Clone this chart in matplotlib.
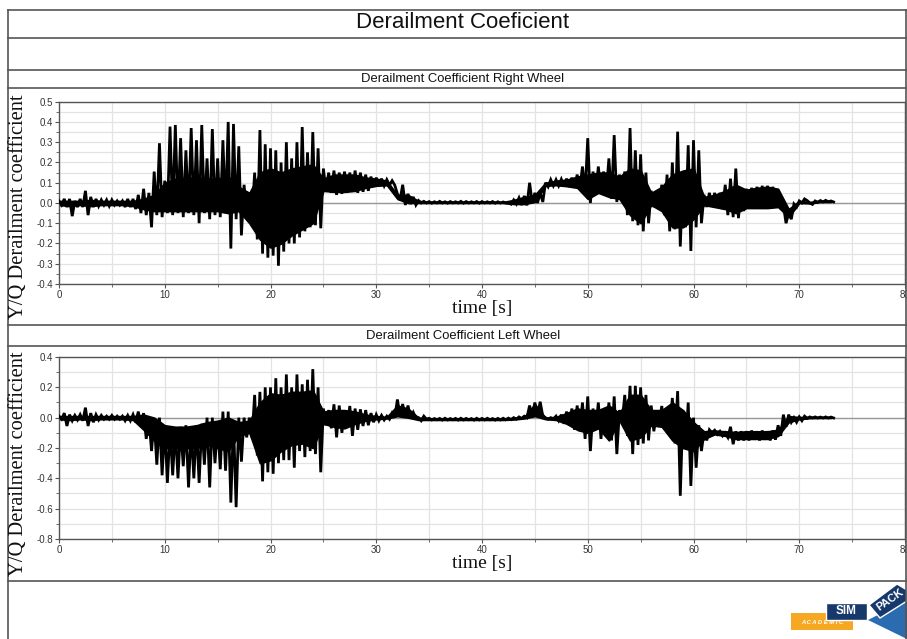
import numpy as np
import matplotlib
matplotlib.use("Agg")
import matplotlib.pyplot as plt
from matplotlib.lines import Line2D
from matplotlib.patches import Rectangle, Polygon
from matplotlib.ticker import MultipleLocator, FormatStrFormatter

# ---------------- data ----------------
TITLE = "Derailment Coeficient"
PANEL_TITLES = ["Derailment Coefficient Right Wheel", "Derailment Coefficient Left Wheel"]
XLABEL = "time [s]"
YLABEL = "Y/Q Derailment coefficient"

# sample times, every 0.5 s from 0 to 73 s (spike extremes)
SAMPLE_TIMES = np.linspace(0.0, 73.0, 147)
# every 1 s from 0 to 73 s (dense core band of the fast oscillation)
CORE_TIMES = np.linspace(0.0, 73.0, 74)

# right wheel: local maxima / minima of the oscillating signal per 0.5 s
R_HI = [0.010, 0.020, 0.020, 0.010, 0.020, 0.060, 0.030, 0.020, 0.015, 0.015,
        0.015, 0.010, 0.010, 0.020, 0.020, 0.040, 0.070, 0.050, 0.155, 0.295,
        0.110, 0.377, 0.385, 0.320, 0.260, 0.370, 0.310, 0.385, 0.220, 0.365,
        0.220, 0.310, 0.400, 0.390, 0.280, 0.090, 0.020, 0.150, 0.360, 0.290,
        0.270, 0.260, 0.200, 0.300, 0.220, 0.300, 0.375, 0.250, 0.350, 0.270,
        0.170, 0.150, 0.160, 0.150, 0.155, 0.150, 0.160, 0.150, 0.140, 0.130,
        0.125, 0.120, 0.115, 0.110, 0.045, 0.090, 0.045, 0.030, 0.012, 0.008,
        0.007, 0.006, 0.008, 0.006, 0.007, 0.006, 0.008, 0.007, 0.006, 0.007,
        0.007, 0.006, 0.007, 0.006, 0.005, 0.000, 0.015, 0.025, 0.035, 0.100,
        0.050, 0.050, 0.100, 0.115, 0.115, 0.117, 0.120, 0.125, 0.140, 0.180,
        0.320, 0.155, 0.180, 0.155, 0.220, 0.335, 0.140, 0.155, 0.370, 0.260,
        0.240, 0.150, 0.060, 0.030, 0.090, 0.140, 0.200, 0.352, 0.140, 0.285,
        0.310, 0.260, 0.040, 0.050, 0.050, 0.050, 0.090, 0.120, 0.170, 0.070,
        0.070, 0.075, 0.080, 0.085, 0.085, 0.080, 0.030, -0.010, -0.050, -0.005,
        0.010, 0.020, 0.000, 0.010, 0.012, 0.013, 0.010]
R_LO = [-0.010, -0.020, -0.065, -0.020, -0.020, -0.060, -0.020, -0.015, -0.010, -0.015,
        -0.010, -0.010, -0.020, -0.020, -0.030, -0.050, -0.060, -0.120, -0.060, -0.070,
        -0.050, -0.060, -0.050, -0.070, -0.050, -0.060, -0.100, -0.050, -0.080, -0.060,
        -0.070, -0.050, -0.225, -0.080, -0.160, -0.050, -0.070, -0.180, -0.250, -0.270,
        -0.260, -0.310, -0.240, -0.200, -0.200, -0.170, -0.140, -0.120, -0.110, -0.125,
        0.060, 0.050, 0.040, 0.045, 0.050, 0.055, 0.050, 0.055, 0.060, 0.080,
        0.085, 0.085, 0.088, 0.088, 0.015, -0.010, -0.005, -0.010, 0.000, 0.000,
        -0.001, 0.000, 0.000, -0.001, 0.000, 0.000, -0.001, 0.000, 0.000, -0.001,
        0.000, 0.000, -0.001, 0.000, 0.000, -0.006, -0.005, -0.010, -0.012, 0.000,
        0.000, 0.005, 0.080, 0.085, 0.085, 0.083, 0.080, 0.075, 0.070, 0.050,
        0.000, 0.040, 0.055, 0.050, 0.020, 0.005, 0.055, -0.060, -0.090, -0.110,
        -0.140, -0.100, -0.020, -0.010, -0.060, -0.140, -0.130, -0.215, -0.120, -0.237,
        -0.120, -0.100, -0.020, -0.010, -0.020, -0.030, -0.060, -0.070, -0.075, -0.040,
        -0.020, -0.020, -0.025, -0.025, -0.025, -0.020, -0.020, -0.100, -0.080, -0.020,
        0.000, 0.012, -0.007, 0.003, 0.005, 0.006, 0.005]
R_CORE_HI = [0.010, 0.010, 0.010, 0.015, 0.010, 0.010, 0.010, 0.010, 0.020, 0.040,
             0.100, 0.120, 0.120, 0.130, 0.120, 0.120, 0.130, 0.080, 0.050, 0.150,
             0.170, 0.150, 0.170, 0.180, 0.190, 0.120, 0.140, 0.140, 0.140, 0.125,
             0.120, 0.110, 0.040, 0.040, 0.010, 0.006, 0.006, 0.006, 0.006, 0.006,
             0.006, 0.006, 0.005, 0.015, 0.030, 0.040, 0.100, 0.110, 0.115, 0.130,
             0.140, 0.150, 0.150, 0.130, 0.170, 0.160, 0.050, 0.080, 0.140, 0.160,
             0.170, 0.030, 0.040, 0.060, 0.090, 0.065, 0.075, 0.080, 0.070, -0.030,
             0.010, 0.005, 0.012, 0.010]
R_CORE_LO = [-0.010, -0.015, -0.010, -0.015, -0.010, -0.010, -0.010, -0.015, -0.030, -0.040,
             -0.040, -0.040, -0.040, -0.040, -0.040, -0.040, -0.050, -0.040, -0.100, -0.180,
             -0.220, -0.200, -0.160, -0.130, -0.100, 0.060, 0.055, 0.055, 0.060, 0.075,
             0.085, 0.088, 0.020, 0.000, 0.000, 0.000, 0.000, 0.000, 0.000, 0.000,
             0.000, 0.000, 0.000, -0.005, -0.005, 0.005, 0.085, 0.088, 0.083, 0.075,
             0.020, 0.050, 0.030, 0.020, -0.060, -0.100, -0.010, -0.040, -0.120, -0.120,
             -0.080, -0.010, -0.020, -0.030, -0.050, -0.025, -0.025, -0.025, -0.020, -0.070,
             0.000, -0.002, 0.005, 0.005]

# left wheel
L_HI = [0.010, 0.030, 0.020, 0.015, 0.020, 0.066, 0.030, 0.020, 0.015, 0.010,
        0.015, 0.010, 0.010, 0.015, 0.020, 0.040, 0.030, 0.000, -0.010, 0.000,
        -0.050, -0.070, -0.070, -0.060, -0.050, -0.070, -0.050, -0.040, 0.000, 0.000,
        -0.030, 0.040, 0.040, -0.020, 0.000, 0.000, 0.000, 0.150, 0.170, 0.200,
        0.200, 0.260, 0.200, 0.285, 0.200, 0.285, 0.220, 0.250, 0.320, 0.200,
        0.060, 0.050, 0.088, 0.080, 0.040, 0.077, 0.060, 0.055, 0.050, 0.030,
        0.020, 0.015, 0.010, 0.030, 0.120, 0.090, 0.080, 0.035, 0.000, 0.010,
        -0.004, -0.006, -0.005, -0.004, -0.006, -0.005, -0.004, -0.005, -0.006, -0.004,
        -0.005, -0.004, -0.006, -0.005, -0.004, -0.003, 0.000, 0.005, 0.010, 0.080,
        0.100, 0.105, 0.000, 0.000, 0.010, 0.020, 0.040, 0.060, 0.080, 0.100,
        0.140, 0.060, 0.100, 0.050, 0.100, 0.140, 0.050, 0.150, 0.210, 0.210,
        0.200, 0.150, 0.080, 0.020, 0.077, 0.060, 0.130, 0.175, 0.050, 0.100,
        0.000, -0.050, -0.090, -0.080, -0.083, -0.090, -0.100, -0.060, -0.090, -0.090,
        -0.090, -0.085, -0.090, -0.085, -0.090, -0.085, -0.050, 0.020, 0.020, 0.000,
        0.005, 0.010, 0.005, 0.005, 0.004, 0.005, 0.004]
L_LO = [-0.010, -0.055, -0.020, -0.015, -0.020, -0.055, -0.030, -0.015, -0.010, -0.010,
        -0.010, -0.010, -0.020, -0.020, -0.030, -0.060, -0.140, -0.220, -0.310, -0.380,
        -0.430, -0.380, -0.400, -0.320, -0.460, -0.400, -0.430, -0.310, -0.460, -0.300,
        -0.340, -0.350, -0.560, -0.590, -0.290, -0.130, -0.130, -0.250, -0.420, -0.360,
        -0.370, -0.300, -0.280, -0.280, -0.330, -0.220, -0.260, -0.220, -0.240, -0.360,
        -0.050, -0.070, -0.130, -0.100, -0.060, -0.120, -0.080, -0.055, -0.050, -0.030,
        -0.020, -0.015, -0.010, 0.000, 0.010, 0.000, 0.000, -0.005, -0.020, -0.010,
        -0.015, -0.014, -0.016, -0.015, -0.014, -0.016, -0.015, -0.014, -0.016, -0.015,
        -0.015, -0.014, -0.016, -0.015, -0.014, -0.013, -0.010, -0.005, 0.000, 0.010,
        0.010, 0.010, -0.010, -0.010, -0.020, -0.040, -0.050, -0.080, -0.090, -0.140,
        -0.220, -0.080, -0.140, -0.080, -0.150, -0.240, -0.030, -0.120, -0.240, -0.180,
        -0.170, -0.150, -0.090, -0.040, -0.066, -0.100, -0.170, -0.515, -0.200, -0.450,
        -0.330, -0.220, -0.150, -0.100, -0.110, -0.120, -0.130, -0.175, -0.150, -0.150,
        -0.150, -0.145, -0.150, -0.145, -0.150, -0.145, -0.120, -0.060, -0.030, -0.030,
        -0.020, -0.005, -0.002, -0.002, -0.002, -0.002, -0.002]
L_CORE_HI = [0.010, 0.010, 0.010, 0.010, 0.010, 0.010, 0.010, 0.010, 0.020, 0.000,
             -0.050, -0.060, -0.060, -0.050, -0.030, -0.020, 0.000, -0.030, -0.020, 0.100,
             0.160, 0.150, 0.170, 0.170, 0.180, 0.040, 0.050, 0.050, 0.040, 0.020,
             0.010, 0.005, 0.080, 0.060, 0.000, -0.005, -0.005, -0.005, -0.005, -0.005,
             -0.005, -0.005, -0.005, -0.003, 0.005, 0.090, 0.000, 0.005, 0.030, 0.060,
             0.050, 0.050, 0.080, 0.030, 0.150, 0.150, 0.050, 0.050, 0.100, 0.050,
             -0.030, -0.090, -0.085, -0.090, -0.095, -0.090, -0.090, -0.090, -0.080, 0.010,
             0.004, 0.005, 0.004, 0.004]
L_CORE_LO = [-0.010, -0.015, -0.010, -0.015, -0.010, -0.010, -0.010, -0.015, -0.080, -0.150,
             -0.200, -0.200, -0.200, -0.200, -0.180, -0.200, -0.220, -0.120, -0.100, -0.300,
             -0.280, -0.220, -0.180, -0.170, -0.200, -0.040, -0.060, -0.070, -0.040, -0.020,
             -0.010, -0.005, 0.010, 0.000, -0.015, -0.015, -0.015, -0.015, -0.015, -0.015,
             -0.015, -0.015, -0.015, -0.012, -0.005, 0.010, -0.010, -0.015, -0.040, -0.080,
             -0.100, -0.070, -0.150, -0.020, -0.150, -0.130, -0.050, -0.060, -0.150, -0.200,
             -0.220, -0.140, -0.110, -0.120, -0.140, -0.140, -0.140, -0.140, -0.120, -0.030,
             -0.010, -0.003, -0.002, -0.002]

X_RANGE = (0, 80)
Y_RANGES = [(-0.4, 0.5), (-0.8, 0.4)]
Y_MAJOR = [0.1, 0.2]
Y_GRID = [0.05, 0.1]

# ---------------- figure ----------------
W, H = 907, 639
fig = plt.figure(figsize=(W / 100, H / 100), dpi=100)
fig.patch.set_facecolor("white")


def fx(x):
    return x / W


def fy(y):
    return 1 - y / H


def hline(y, x0=8, x1=907, c="#555555", lw=1.2):
    fig.add_artist(Line2D([fx(x0), fx(x1)], [fy(y), fy(y)], color=c, lw=lw,
                          transform=fig.transFigure))


def vline(x, y0, y1, c="#555555", lw=1.2):
    fig.add_artist(Line2D([fx(x), fx(x)], [fy(y0), fy(y1)], color=c, lw=lw,
                          transform=fig.transFigure))


# frame lines
for yy in (10, 38, 70, 88, 325, 346, 581):
    hline(yy)
vline(8, 10, 639)
vline(906, 10, 639)

fig.text(fx(463), fy(23), TITLE, ha="center", va="center", fontsize=16,
         family="Liberation Sans", color="#111111")
fig.text(fx(463), fy(79), PANEL_TITLES[0], ha="center", va="center", fontsize=9.4,
         family="Liberation Sans", color="#111111")
fig.text(fx(463), fy(336), PANEL_TITLES[1], ha="center", va="center", fontsize=9.4,
         family="Liberation Sans", color="#111111")

axes_px = [(59, 101.7, 905, 284.0), (59, 357.0, 905, 539.0)]
label_centers = [207, 464]
series = [(R_HI, R_LO, R_CORE_HI, R_CORE_LO), (L_HI, L_LO, L_CORE_HI, L_CORE_LO)]

for i, (x0, y0, x1, y1) in enumerate(axes_px):
    ax = fig.add_axes([fx(x0), fy(y1), fx(x1) - fx(x0), (y1 - y0) / H])
    hi, lo, chi, clo = series[i]
    n = len(SAMPLE_TIMES)
    xs = np.empty(2 * n)
    ys = np.empty(2 * n)
    xs[0::2] = SAMPLE_TIMES
    xs[1::2] = SAMPLE_TIMES + 0.25
    ys[0::2] = hi
    ys[1::2] = lo
    ax.set_xlim(*X_RANGE)
    ax.set_ylim(*Y_RANGES[i])
    ax.xaxis.set_major_locator(MultipleLocator(10))
    ax.xaxis.set_minor_locator(MultipleLocator(5))
    ax.yaxis.set_major_locator(MultipleLocator(Y_MAJOR[i]))
    ax.yaxis.set_minor_locator(MultipleLocator(Y_GRID[i]))
    ax.grid(True, which="both", color="#e3e3e3", lw=0.9)
    ax.set_axisbelow(True)
    ax.axhline(0, color="#999999", lw=1.0, zorder=1.5)
    ax.fill_between(CORE_TIMES, clo, chi, color="black", lw=1.2, zorder=2.5)
    ax.plot(xs, ys, color="black", lw=2.0, zorder=3, solid_joinstyle="miter")
    ax.tick_params(which="both", direction="out", colors="#555555",
                   labelcolor="#333333", labelsize=7, pad=1)
    ax.tick_params(which="major", length=3)
    ax.tick_params(which="minor", length=2)
    ax.yaxis.set_major_formatter(FormatStrFormatter("%.1f"))
    ax.xaxis.set_major_formatter(FormatStrFormatter("%d"))
    for lab in ax.get_xticklabels() + ax.get_yticklabels():
        lab.set_family("Liberation Sans")
    for s in ax.spines.values():
        s.set_color("#555555")
        s.set_linewidth(1.0)
    ax.set_xlabel(XLABEL, family="Liberation Serif", fontsize=14, labelpad=0,
                  color="#111111")
    fig.text(fx(19), fy(label_centers[i]), YLABEL, rotation=90, ha="center",
             va="center", family="Liberation Serif", fontsize=14.8, color="#111111")

# SIMPACK academic logo
fig.add_artist(Rectangle((fx(791), fy(630)), fx(853) - fx(791), (630 - 613) / H,
                         transform=fig.transFigure, facecolor="#f7a823", edgecolor="none"))
fig.text(fx(822), fy(622.5), "A C A D E M I C", ha="center", va="center", fontsize=4.2,
         color="white", family="Liberation Sans", style="italic", weight="bold")
fig.add_artist(Rectangle((fx(826), fy(620)), fx(867) - fx(826), (620 - 603) / H,
                         transform=fig.transFigure, facecolor="#16386b", edgecolor="white", lw=1))
fig.text(fx(846), fy(611.5), "SIM", ha="center", va="center", fontsize=8.5,
         color="white", family="Liberation Sans", weight="bold")
fig.add_artist(Polygon([(fx(868), fy(620)), (fx(907), fy(639)), (fx(907), fy(600))],
                       closed=True, transform=fig.transFigure,
                       facecolor="#2b6cb0", edgecolor="none"))
fig.add_artist(Polygon([(fx(869), fy(605)), (fx(897), fy(584)), (fx(907), fy(590)),
                        (fx(907), fy(601)), (fx(880), fy(618))],
                       closed=True, transform=fig.transFigure,
                       facecolor="#16386b", edgecolor="white", lw=1))
fig.text(fx(890), fy(600), "PACK", ha="center", va="center", fontsize=8,
         rotation=35, color="white", family="Liberation Sans", weight="bold")

fig.savefig("out.png", dpi=100, facecolor="white")
